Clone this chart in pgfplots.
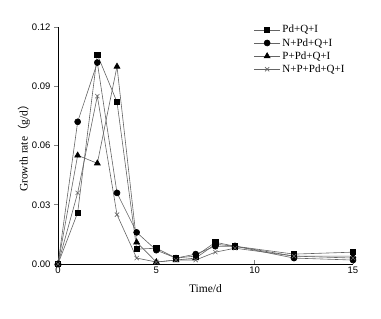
\documentclass[border=0pt]{standalone}
\usepackage{fontspec}
\setmainfont{Liberation Serif}
\setsansfont{Liberation Sans}
\newfontfamily\cjk{Noto Sans CJK SC}
\usepackage{pgfplots}
\pgfplotsset{compat=1.18}
\definecolor{ln}{RGB}{100,100,100}
\begin{document}
\begin{tikzpicture}
\begin{axis}[
  scale only axis, width=295pt, height=237pt,
  xmin=0, xmax=15, ymin=0, ymax=0.12,
  axis x line=bottom, axis y line=left,
  axis line style={-, line width=0.7pt},
  xtick={0,5,10,15}, ytick={0,0.03,0.06,0.09,0.12},
  x tick style={line width=0.6pt}, y tick style={line width=0.6pt},
  xtick align=inside, ytick align=outside, major tick length=4pt,
  /pgf/number format/assume math mode=true,
  ticklabel style={font=\sffamily\fontsize{9.5}{10}\selectfont},
  x tick label style={yshift=1pt},
  y tick label style={/pgf/number format/.cd, fixed, fixed zerofill, precision=2},
  scaled y ticks=false,
  xlabel={Time/d}, ylabel={Growth rate{\cjk （}g/d{\cjk ）}},
  label style={font=\fontsize{11.5}{13}\selectfont},
  xlabel style={yshift=-4pt},
  ylabel style={yshift=-5pt},
  legend style={at={(0.653,1.025)}, anchor=north west, draw=none, fill=none,
    font=\fontsize{11}{12}\selectfont, row sep=0pt},
  legend cell align=left,
  legend image code/.code={\draw[mark repeat=2,mark phase=2] plot coordinates {(0pt,0pt) (13pt,0pt) (26pt,0pt)};},
  clip=false,
]
\addplot[line width=0.6pt, color=ln, mark=square*, mark size=2.6pt, mark options={fill=black, draw=black, solid}] coordinates {(0,0) (1,0.026) (2,0.106) (3,0.082) (4,0.0075) (5,0.008) (6,0.003) (7,0.004) (8,0.011) (9,0.009) (12,0.005) (15,0.006)};
\addlegendentry{Pd+Q+I}
\addplot[line width=0.6pt, color=ln, mark=*, mark size=3pt, mark options={fill=black, draw=black, solid}] coordinates {(0,0) (1,0.072) (2,0.102) (3,0.036) (4,0.016) (5,0.007) (6,0.003) (7,0.005) (8,0.009) (9,0.009) (12,0.003) (15,0.002)};
\addlegendentry{N+Pd+Q+I}
\addplot[line width=0.6pt, color=ln, mark=triangle*, mark size=3.4pt, mark options={fill=black, draw=black, solid}] coordinates {(0,0) (1,0.055) (2,0.051) (3,0.100) (4,0.011) (5,0.001) (6,0.002) (7,0.003) (8,0.010) (9,0.009) (12,0.004) (15,0.004)};
\addlegendentry{P+Pd+Q+I}
\addplot[line width=0.6pt, color=ln, mark=x, mark size=3pt, mark options={draw=ln, solid}] coordinates {(0,0) (1,0.036) (2,0.085) (3,0.025) (4,0.003) (5,0.001) (6,0.002) (7,0.002) (8,0.006) (9,0.008) (12,0.004) (15,0.003)};
\addlegendentry{N+P+Pd+Q+I}
\end{axis}
\useasboundingbox (-58pt,-55pt) rectangle (323pt,264pt);
\end{tikzpicture}
\end{document}
